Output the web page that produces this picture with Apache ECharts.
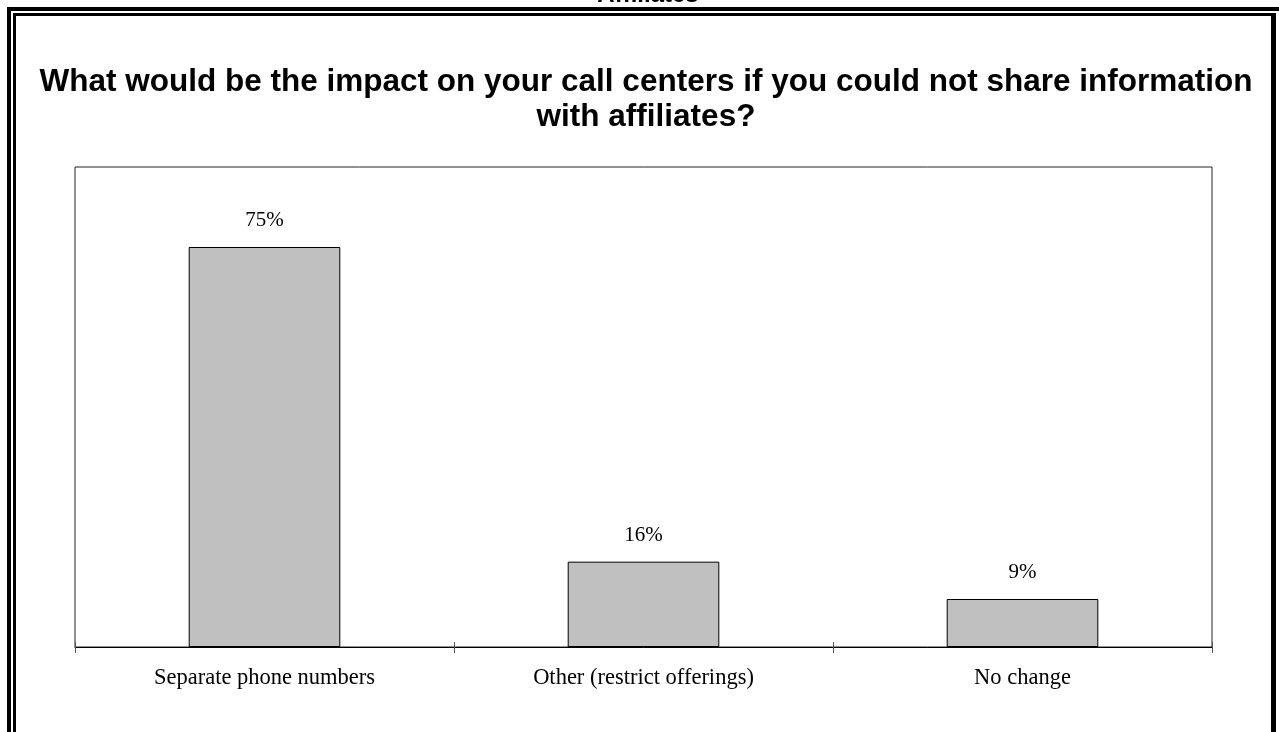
<!DOCTYPE html>
<html>
<head>
<meta charset="utf-8">
<title>Call center impact</title>
<script src="https://cdn.jsdelivr.net/npm/echarts@6/dist/echarts.min.js"></script>
<style>
  html, body { margin: 0; padding: 0; background: #fff; }
  #chart { width: 1279px; height: 732px; }
</style>
</head>
<body>
<div id="chart"></div>
<script>
// Survey answers and the share of respondents for each
const categories = ['Separate phone numbers', 'Other (restrict offerings)', 'No change'];
const shares = [75, 16, 9];

const pageTitle = 'Affiliates';
const chartTitle = 'What would be the impact on your call centers if you could not share information\nwith affiliates?';

const chart = echarts.init(document.getElementById('chart'), null, { renderer: 'canvas' });

const serif = '"Liberation Serif", "Times New Roman", serif';
const sans = '"Liberation Sans", Arial, sans-serif';

chart.setOption({
  animation: false,
  backgroundColor: '#ffffff',
  title: {
    text: chartTitle,
    left: 641,
    textAlign: 'center',
    top: 60,
    textStyle: {
      fontFamily: sans,
      fontWeight: 'bold',
      fontSize: 31.5,
      lineHeight: 35,
      color: '#000'
    }
  },
  grid: {
    left: 75,
    right: 67,
    top: 167,
    bottom: 85,
    show: true,
    borderColor: '#222',
    borderWidth: 1,
    backgroundColor: 'transparent'
  },
  xAxis: [
    {
      type: 'category',
      data: categories,
      position: 'bottom',
      axisLine: { show: true, lineStyle: { color: '#000', width: 1 } },
      axisTick: { show: true, length: 6, lineStyle: { color: '#555' } },
      axisLabel: {
        margin: 20,
        fontFamily: serif,
        fontSize: 22.5,
        color: '#000'
      }
    },
    {
      type: 'category',
      data: categories,
      position: 'bottom',
      offset: 0,
      axisLine: { show: false },
      axisTick: { show: true, inside: true, length: 5, lineStyle: { color: '#555' } },
      axisLabel: { show: false }
    }
  ],
  yAxis: {
    type: 'value',
    min: 0,
    max: 90,
    show: false,
    splitLine: { show: false }
  },
  series: [{
    type: 'bar',
    data: shares,
    barWidth: '40%',
    itemStyle: {
      color: '#c0c0c0',
      borderColor: '#000',
      borderWidth: 1
    },
    label: {
      show: true,
      position: 'top',
      distance: 16,
      formatter: '{c}%',
      fontFamily: serif,
      fontSize: 21,
      color: '#000'
    }
  }],
  graphic: [
    // heading of the page, running off the top edge
    {
      type: 'text',
      x: 648,
      y: 7,
      style: {
        text: pageTitle,
        textAlign: 'center',
        textVerticalAlign: 'bottom',
        font: 'bold 24px ' + sans,
        fill: '#000'
      }
    },
    // double page frame
    { type: 'rect', shape: { x: 7, y: 7, width: 1290, height: 4 }, style: { fill: '#000' } },
    { type: 'rect', shape: { x: 7, y: 7, width: 4, height: 740 }, style: { fill: '#000' } },
    { type: 'rect', shape: { x: 13, y: 13, width: 1263, height: 3 }, style: { fill: '#000' } },
    { type: 'rect', shape: { x: 13, y: 13, width: 3, height: 740 }, style: { fill: '#000' } },
    { type: 'rect', shape: { x: 1271, y: 13, width: 5, height: 740 }, style: { fill: '#000' } }
  ]
});
</script>
</body>
</html>
